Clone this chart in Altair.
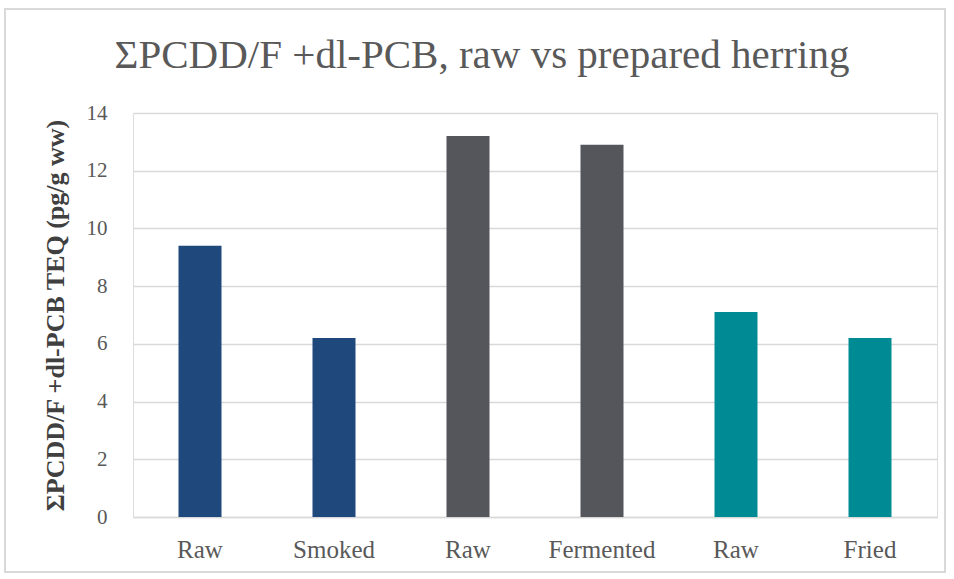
import altair as alt
import pandas as pd

# Herring samples: preparation labels, TEQ values and the processing pair each belongs to
labels = ["Raw", "Smoked", "Raw", "Fermented", "Raw", "Fried"]
teq_values = [9.4, 6.2, 13.2, 12.9, 7.1, 6.2]
pairs = ["Smoking", "Smoking", "Fermenting", "Fermenting", "Frying", "Frying"]
pair_order = ["Smoking", "Fermenting", "Frying"]
pair_colors = ["#1F497D", "#54565B", "#008B94"]
y_ticks = [0, 2, 4, 6, 8, 10, 12, 14]

df = pd.DataFrame({
    "idx": list(range(len(labels))),
    "label": labels,
    "teq": teq_values,
    "pair": pairs,
})

label_expr = "[" + ",".join(f"'{s}'" for s in labels) + "][datum.value]"

FONT = "Liberation Serif"

bars = alt.Chart(df).mark_bar(size=43).encode(
    x=alt.X(
        "idx:O",
        title=None,
        scale=alt.Scale(paddingInner=0.68, paddingOuter=0.34),
        axis=alt.Axis(
            labelExpr=label_expr,
            labelAngle=0,
            labelFontSize=25,
            labelColor="#595959",
            labelFont=FONT,
            labelPadding=20,
            ticks=False,
            domainColor="#D9D9D9",
            domainWidth=1.5,
        ),
    ),
    y=alt.Y(
        "teq:Q",
        title="ΣPCDD/F +dl-PCB TEQ (pg/g ww)",
        scale=alt.Scale(domain=[0, 14], nice=False),
        axis=alt.Axis(
            values=y_ticks,
            labelFontSize=21,
            labelColor="#595959",
            labelFont=FONT,
            labelPadding=26,
            ticks=False,
            domain=False,
            gridColor="#D9D9D9",
            gridWidth=1.5,
            titleFont=FONT,
            titleFontSize=26,
            titleFontWeight="bold",
            titleColor="#404040",
            titleX=-70,
            titleY=202,
            titleAngle=-90,
            titleBaseline="alphabetic",
            titleAlign="center",
        ),
    ),
    color=alt.Color(
        "pair:N",
        scale=alt.Scale(domain=pair_order, range=pair_colors),
        legend=None,
    ),
)

# Light outer frame around the whole figure
frame = alt.Chart(df).mark_rect(
    fill=None, stroke="#D9D9D9", strokeWidth=1.5
).encode(
    x=alt.value(-128),
    x2=alt.value(812),
    y=alt.value(-104),
    y2=alt.value(459),
)

chart = alt.layer(bars, frame).properties(
    width=804,
    height=404,
    padding={"left": 133, "top": 113, "right": 17, "bottom": 62},
    autosize=alt.AutoSizeParams(type="none"),
    title=alt.TitleParams(
        "ΣPCDD/F +dl-PCB, raw vs prepared herring",
        font=FONT,
        fontSize=41,
        fontWeight="normal",
        color="#595959",
        anchor="middle",
        dx=-53,
        dy=101,
        baseline="alphabetic",
        offset=0,
    ),
).configure_view(stroke=None).configure(background="white")

chart.save("out.html", embed_options={"renderer": "svg", "actions": False})
